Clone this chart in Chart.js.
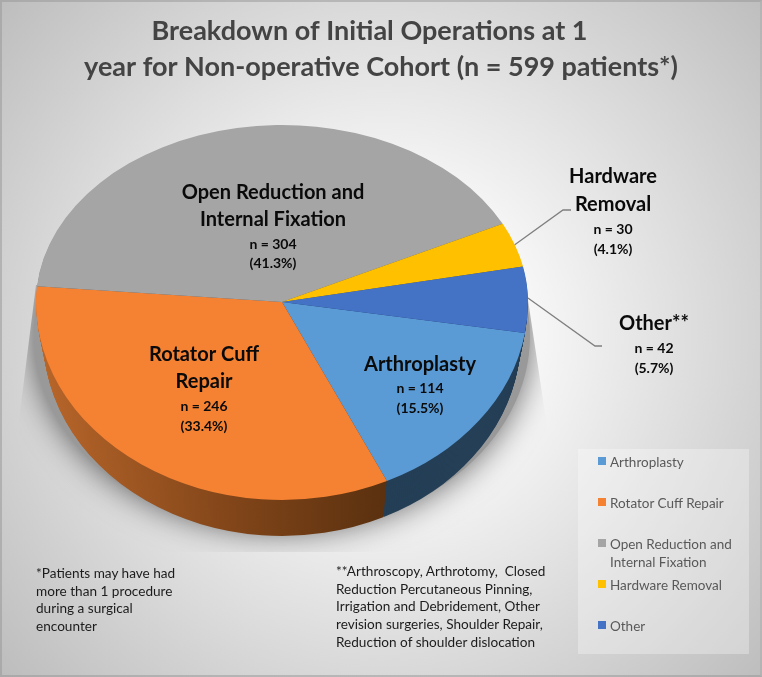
<!DOCTYPE html>
<html lang="en">
<head>
    <meta charset="UTF-8">
    <title>Breakdown of Initial Operations</title>
    <script src="https://cdn.jsdelivr.net/npm/chart.js@4/dist/chart.umd.min.js"></script>
    <style>
        html, body { margin: 0; padding: 0; }
        body {
            width: 762px;
            height: 677px;
            position: relative;
            overflow: hidden;
            font-family: 'Lato', sans-serif;
            background: radial-gradient(circle 530px at 385px 335px, #ffffff 0%, #ffffff 18%, #bababa 100%);
        }
        #frame { position: absolute; inset: 0; box-sizing: border-box; border: 2px solid rgba(150,150,150,0.5); border-right-color: rgba(150,150,150,0.25); }
        #wrap { position: absolute; left: 0; top: 0; width: 762px; height: 677px; }
        #legendBox {
            position: absolute; left: 578px; top: 449px; width: 171px; height: 205px;
            background: rgba(255,255,255,0.3);
        }
        .legendItem { position: absolute; left: 20px; width: 150px; font-size: 13.5px; line-height: 18px; color: #595959; padding-left: 12px; box-sizing: border-box; }
        .legendItem i { position: absolute; left: 0; top: 4px; width: 8px; height: 8px; }
        .note { position: absolute; font-size: 13.6px; line-height: 17.7px; color: #1c1c1c; white-space: pre; }
    </style>
</head>
<body>
    <div id="wrap"><canvas id="chart" width="762" height="677"></canvas></div>
    <div id="frame"></div>
    <div id="legendBox"></div>
    <div class="note" id="noteLeft" style="left:36px;top:565px"></div>
    <div class="note" id="noteRight" style="left:336px;top:563px"></div>

    <script>
        const categories = ['Arthroplasty', 'Rotator Cuff Repair', 'Open Reduction and Internal Fixation', 'Hardware Removal', 'Other'];
        const counts = [114, 246, 304, 30, 42];
        const percents = ['15.5%', '33.4%', '41.3%', '4.1%', '5.7%'];
        const colors = ['#5B9BD5', '#F58233', '#A5A5A5', '#FFC000', '#4472C4'];
        const sideColors = ['#243F56', null, '#555555', '#7F6000', '#22396A'];
        const labelLines = [['Arthroplasty'], ['Rotator Cuff', 'Repair'], ['Open Reduction and', 'Internal Fixation'], ['Hardware', 'Removal'], ['Other**']];
        const titleLines = ['Breakdown of Initial Operations at 1', 'year for Non-operative Cohort (n = 599 patients*)'];
        const noteLeft = ['*Patients may have had', 'more than 1 procedure', 'during a surgical', 'encounter'];
        const noteRight = ['**Arthroscopy, Arthrotomy,  Closed', 'Reduction Percutaneous Pinning,', 'Irrigation and Debridement, Other', 'revision surgeries, Shoulder Repair,', 'Reduction of shoulder dislocation'];

        // layout of the text around the pie, y of each text line
        const titlePos = [{ x: 369.5, y: 31 }, { x: 381, y: 67 }];
        const labelPos = [
            { x: 420, y: [365, 388, 408] },
            { x: 204, y: [355, 382, 406, 426] },
            { x: 273, y: [193, 220, 244, 263] },
            { x: 613, y: [177, 205, 229, 249] },
            { x: 654, y: [324, 348, 368] }
        ];
        const leaders = { 3: [[563, 210], [571, 210]], 4: [[595, 346], [602, 346]] };
        const legendTops = [4, 45, 86, 127, 168];

        const ROTATION = 99;
        const TOP_RY = 177;
        const BOTTOM_RY = 198;
        const DEPTH = 36;

        function drawFace(ctx, cx, cy, R, offset, shrink, fn) {
            // pie is squashed more above the centre than below, fakes the perspective
            [[TOP_RY, 0, cy + offset + 0.5], [BOTTOM_RY, cy + offset, 700]].forEach(([ry, y0, y1]) => {
                ctx.save();
                ctx.beginPath();
                ctx.rect(0, y0, 762, y1 - y0);
                ctx.clip();
                ctx.translate(cx, cy + offset);
                ctx.scale(shrink, ry / R);
                ctx.translate(-cx, -cy);
                fn();
                ctx.restore();
            });
        }

        const pie3d = {
            id: 'pie3d',
            beforeDatasetsDraw(chart) {
                const ctx = chart.ctx;
                const arcs = chart.getDatasetMeta(0).data;
                const cx = arcs[0].x, cy = arcs[0].y, R = arcs[0].outerRadius;

                // soft shadow, cut off like in the original
                ctx.save();
                ctx.beginPath();
                ctx.moveTo(36, 285);
                ctx.lineTo(19, 420);
                ctx.lineTo(19, 552);
                ctx.lineTo(546, 552);
                ctx.lineTo(546, 420);
                ctx.lineTo(528, 300);
                ctx.closePath();
                ctx.clip();
                ctx.shadowColor = 'rgba(0,0,0,0.6)';
                ctx.shadowBlur = 32;
                ctx.fillStyle = '#999';
                ctx.beginPath();
                ctx.ellipse(cx, cy + 34, R + 2, BOTTOM_RY - 2, 0, 0, Math.PI * 2);
                ctx.fill();
                ctx.restore();

                // side wall
                const orangeSide = ctx.createLinearGradient(cx - R, 0, cx + 110, 0);
                orangeSide.addColorStop(0, '#B8662A');
                orangeSide.addColorStop(0.55, '#814519');
                orangeSide.addColorStop(1, '#59300F');
                for (let k = DEPTH; k >= 1; k--) {
                    const shrink = 1 - 0.03 * k / DEPTH;
                    drawFace(ctx, cx, cy, R, k, shrink, () => {
                        arcs.forEach((arc, i) => {
                            const o = arc.options;
                            arc.options = Object.assign({}, o, { backgroundColor: sideColors[i] || orangeSide });
                            arc.draw(ctx);
                            arc.options = o;
                        });
                    });
                }

                // top face
                drawFace(ctx, cx, cy, R, 0, 1, () => {
                    arcs.forEach(arc => arc.draw(ctx));
                });
                return false;
            },
            afterDraw(chart) {
                const ctx = chart.ctx;
                const arcs = chart.getDatasetMeta(0).data;
                const cx = arcs[0].x, cy = arcs[0].y, R = arcs[0].outerRadius;

                // leader lines, start at the middle of the slice rim
                ctx.strokeStyle = '#7F7F7F';
                ctx.lineWidth = 1.3;
                Object.keys(leaders).forEach(i => {
                    const mid = (arcs[i].startAngle + arcs[i].endAngle) / 2;
                    const sy = Math.sin(mid);
                    ctx.beginPath();
                    ctx.moveTo(cx + R * Math.cos(mid), cy + sy * (sy < 0 ? TOP_RY : BOTTOM_RY));
                    leaders[i].forEach(p => ctx.lineTo(p[0], p[1]));
                    ctx.stroke();
                });

                ctx.textAlign = 'center';
                ctx.textBaseline = 'middle';

                // title
                ctx.fillStyle = '#444444';
                ctx.font = 'bold 27px Lato';
                titleLines.forEach((t, i) => ctx.fillText(t, titlePos[i].x, titlePos[i].y));

                // slice labels
                ctx.fillStyle = '#0A0A0A';
                categories.forEach((c, i) => {
                    const pos = labelPos[i];
                    const lines = labelLines[i];
                    ctx.font = 'bold 20px Lato';
                    lines.forEach((t, j) => ctx.fillText(t, pos.x, pos.y[j]));
                    ctx.font = 'bold 14px Lato';
                    ctx.fillText('n = ' + counts[i], pos.x, pos.y[lines.length]);
                    ctx.fillText('(' + percents[i] + ')', pos.x, pos.y[lines.length + 1]);
                });
            }
        };

        new Chart(document.getElementById('chart'), {
            type: 'pie',
            data: {
                labels: categories,
                datasets: [{ data: counts, backgroundColor: colors, borderWidth: 0 }]
            },
            options: {
                responsive: false,
                animation: false,
                rotation: ROTATION,
                layout: { padding: { left: 36, right: 234, top: 56, bottom: 129 } },
                plugins: {
                    legend: { display: false },
                    tooltip: { enabled: false },
                    title: { display: false }
                }
            },
            plugins: [pie3d]
        });

        // legend box
        const box = document.getElementById('legendBox');
        categories.forEach((c, i) => {
            const item = document.createElement('div');
            item.className = 'legendItem';
            item.style.top = legendTops[i] + 'px';
            item.innerHTML = '<i style="background:' + colors[i] + '"></i>' + c;
            box.appendChild(item);
        });

        document.getElementById('noteLeft').textContent = noteLeft.join('\n');
        document.getElementById('noteRight').textContent = noteRight.join('\n');
    </script>
</body>
</html>
